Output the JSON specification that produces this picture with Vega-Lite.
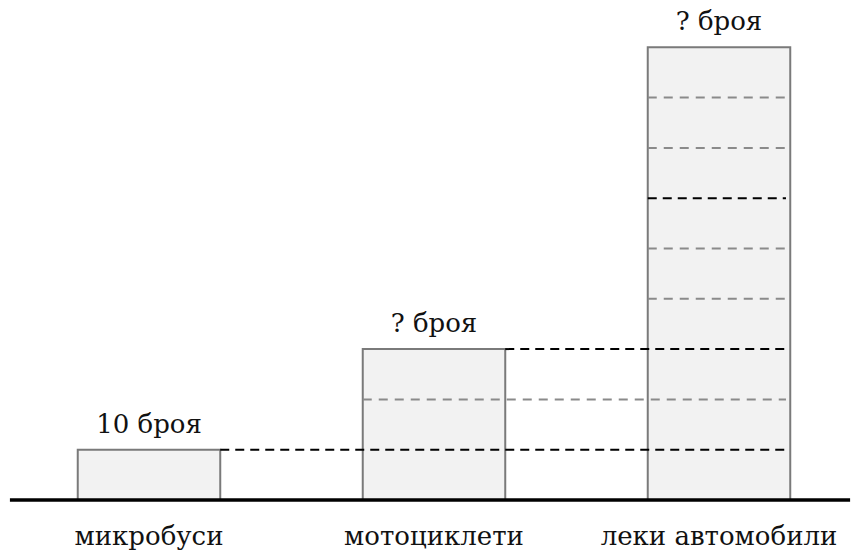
{
  "$schema": "https://vega.github.io/schema/vega-lite/v6.json",
  "width": 855,
  "height": 552,
  "autosize": {"type": "none"},
  "padding": 0,
  "background": "white",
  "config": {"view": {"stroke": null}},
  "datasets": {
    "bars": [
      {"cat": "микробуси", "xc": 0, "x0": -0.25, "x1": 0.25, "b": 0, "h": 1, "label": "10 броя", "ly": -0.9},
      {"cat": "мотоциклети", "xc": 1, "x0": 0.75, "x1": 1.25, "b": 0, "h": 3, "label": "? броя", "ly": -0.9},
      {"cat": "леки автомобили", "xc": 2, "x0": 1.75, "x1": 2.25, "b": 0, "h": 9, "label": "? броя", "ly": -0.9}
    ],
    "lines": [
      {"y": 1, "xs": 0.25, "xe": 2.235, "kind": "black"},
      {"y": 2, "xs": 0.75, "xe": 2.235, "kind": "grey"},
      {"y": 3, "xs": 1.25, "xe": 2.235, "kind": "black"},
      {"y": 4, "xs": 1.75, "xe": 2.235, "kind": "grey"},
      {"y": 5, "xs": 1.75, "xe": 2.235, "kind": "grey"},
      {"y": 6, "xs": 1.75, "xe": 2.235, "kind": "black"},
      {"y": 7, "xs": 1.75, "xe": 2.235, "kind": "grey"},
      {"y": 8, "xs": 1.75, "xe": 2.235, "kind": "grey"}
    ],
    "base": [{"xs": -0.488, "xe": 2.46, "y": 0}]
  },
  "layer": [
    {
      "data": {"name": "bars"},
      "mark": {"type": "rect", "fill": "#f2f2f2", "stroke": "#7a7a7a", "strokeWidth": 2},
      "encoding": {
        "x": {"field": "x0", "type": "quantitative", "scale": {"domain": [-0.5228, 2.4772], "nice": false, "zero": false}, "axis": null},
        "x2": {"field": "x1"},
        "y": {"field": "b", "type": "quantitative", "scale": {"domain": [-1.034, 9.94], "nice": false, "zero": false}, "axis": null},
        "y2": {"field": "h"}
      }
    },
    {
      "data": {"name": "lines"},
      "transform": [{"filter": "datum.kind === 'grey'"}],
      "mark": {"type": "rule", "stroke": "#8a8a8a", "strokeWidth": 2, "strokeDash": [9, 7]},
      "encoding": {
        "x": {"field": "xs", "type": "quantitative"},
        "x2": {"field": "xe"},
        "y": {"field": "y", "type": "quantitative"}
      }
    },
    {
      "data": {"name": "lines"},
      "transform": [{"filter": "datum.kind === 'black'"}],
      "mark": {"type": "rule", "stroke": "#000000", "strokeWidth": 2, "strokeDash": [9, 6]},
      "encoding": {
        "x": {"field": "xs", "type": "quantitative"},
        "x2": {"field": "xe"},
        "y": {"field": "y", "type": "quantitative"}
      }
    },
    {
      "data": {"name": "base"},
      "mark": {"type": "rule", "stroke": "#000000", "strokeWidth": 3.5},
      "encoding": {
        "x": {"field": "xs", "type": "quantitative"},
        "x2": {"field": "xe"},
        "y": {"field": "y", "type": "quantitative"}
      }
    },
    {
      "data": {"name": "bars"},
      "mark": {"type": "text", "font": "DejaVu Serif", "fontSize": 26, "fill": "#111111", "baseline": "alphabetic", "align": "center", "dy": -17},
      "encoding": {
        "x": {"field": "xc", "type": "quantitative"},
        "y": {"field": "h", "type": "quantitative"},
        "text": {"field": "label"}
      }
    },
    {
      "data": {"name": "bars"},
      "mark": {"type": "text", "font": "DejaVu Serif", "fontSize": 26, "fill": "#111111", "baseline": "alphabetic", "align": "center"},
      "encoding": {
        "x": {"field": "xc", "type": "quantitative"},
        "y": {"field": "ly", "type": "quantitative"},
        "text": {"field": "cat"}
      }
    }
  ]
}
